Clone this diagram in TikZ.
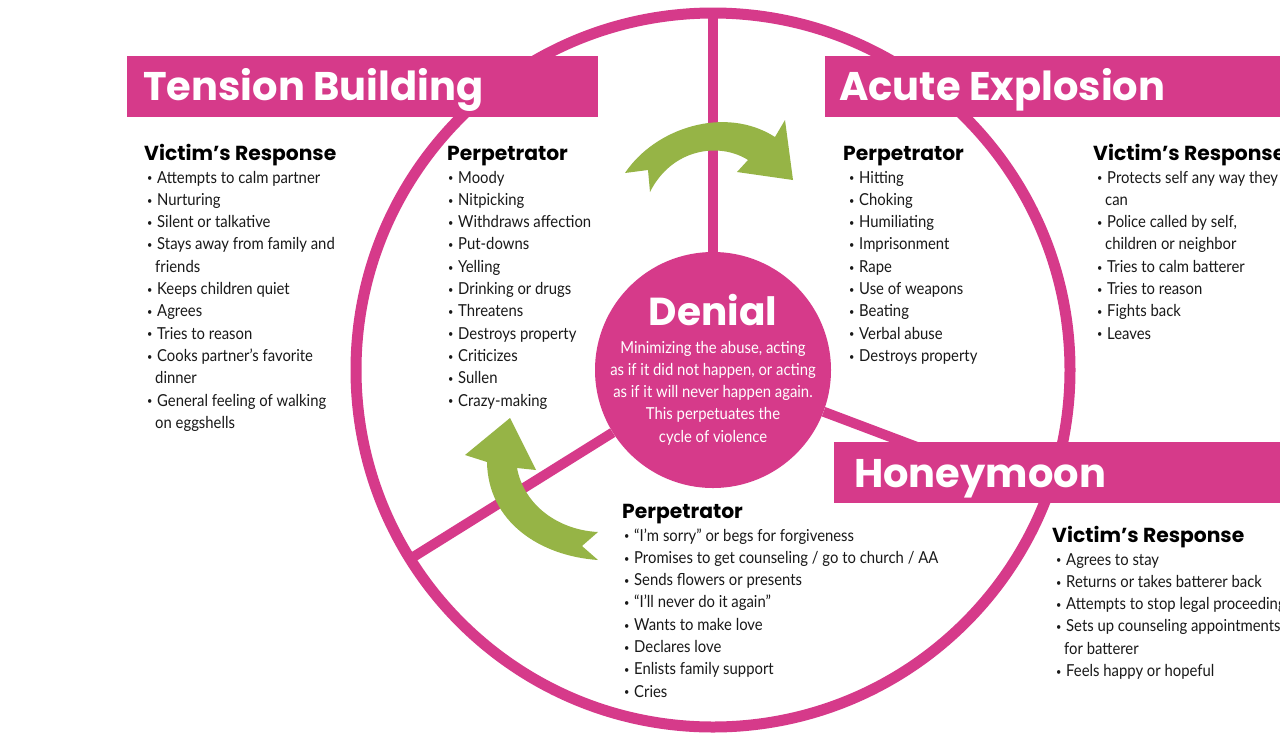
\documentclass[tikz,border=0pt]{standalone}
\usepackage{fontspec}
\setmainfont{Lato}[FakeStretch=0.9]
\newfontfamily\headfont{Poppins}
\definecolor{cpink}{RGB}{214,58,138}
\definecolor{cgreen}{RGB}{150,180,70}
\definecolor{ctext}{RGB}{25,25,25}
\newcommand{\itm}[1]{\makebox[10pt][l]{\raisebox{1.2pt}{\scalebox{0.62}{\textbullet}}}#1}
\newcommand{\cont}[1]{\hspace{8pt}#1}
\tikzset{
  ring/.style={draw=cpink, line width=11pt},
  spoke/.style={draw=cpink, line width=10pt},
  banner/.style={fill=cpink, draw=none, inner sep=0pt, anchor=north west},
  title/.style={anchor=base west, inner sep=0pt, text=white, font=\headfont\bfseries\fontsize{40}{48}\selectfont},
  head/.style={anchor=base west, inner sep=0pt, text=black, font=\headfont\bfseries\fontsize{20.3}{24}\selectfont},
  list/.style={anchor=base west, inner sep=0pt, text=ctext, font=\fontsize{16.5}{22.3}\selectfont},
  arrowshape/.style={fill=cgreen, draw=none},
}
\begin{document}
\begin{tikzpicture}[x=1pt,y=-1pt]
\useasboundingbox (0,0) rectangle (1280,740);
\clip (0,0) rectangle (1280,740);
\fill[white] (0,0) rectangle (1280,740);
% ring and denial circle
\draw[ring] (713,370) circle[radius=357];
\node[circle, fill=cpink, inner sep=0pt, minimum size=236pt] (denial) at (713,370) {};
\coordinate (ctop) at (713,10);
\coordinate (cleft) at (410,559);
\coordinate (cright) at (1047,496);
\draw[spoke] (denial) -- (ctop);
\draw[spoke] (denial) -- (cleft);
\draw[spoke] (denial) -- (cright);
% banners
\node[banner, minimum width=471pt, minimum height=61pt] (tbbox) at (127,56) {};
\node[banner, minimum width=470pt, minimum height=61pt] (aebox) at (825,56) {};
\node[banner, minimum width=460pt, minimum height=61pt] (hmbox) at (834,442) {};
\node[title] (tbtitle) at (143,100) {Tension Building};
\node[title] (aetitle) at (839,100) {Acute Explosion};
\node[title] (hmtitle) at (854,487) {Honeymoon};
% arrows
\fill[arrowshape] (625,173) .. controls (655,128) and (725,105) .. (775,137) -- (785,120) -- (793,180) -- (737,172) -- (748,160) .. controls (720,142) and (672,148) .. (650,192) -- (648,170) -- cycle;
\fill[arrowshape] (510,418) -- (536,470) -- (517,468) .. controls (524,505) and (558,530) .. (598,532) -- (582,546) -- (598,560) .. controls (540,556) and (488,522) .. (487,462) -- (465,455) -- cycle;
% denial text
\node[anchor=base, inner sep=0pt, text=white, font=\headfont\bfseries\fontsize{39}{46}\selectfont] (denialtitle) at (713,325) {Denial};
\node[anchor=base, inner sep=0pt, text=white, font=\fontsize{16.5}{22.3}\selectfont] (denialtext) at (713,353) {\begin{tabular}[t]{@{}c@{}}Minimizing the abuse, acting\\as if it did not happen, or acting\\as if it will never happen again.\\This perpetuates the\\cycle of violence\end{tabular}};
% Tension building
\node[head] (tbvh) at (144,160) {Victim’s Response};
\node[list] (tbv) at (147,183) {\begin{tabular}[t]{@{}l@{}}
\itm{Attempts to calm partner}\\
\itm{Nurturing}\\
\itm{Silent or talkative}\\
\itm{Stays away from family and}\\
\cont{friends}\\
\itm{Keeps children quiet}\\
\itm{Agrees}\\
\itm{Tries to reason}\\
\itm{Cooks partner’s favorite}\\
\cont{dinner}\\
\itm{General feeling of walking}\\
\cont{on eggshells}
\end{tabular}};
\node[head] (tbph) at (447,160) {Perpetrator};
\node[list] (tbp) at (448,183) {\begin{tabular}[t]{@{}l@{}}
\itm{Moody}\\
\itm{Nitpicking}\\
\itm{Withdraws affection}\\
\itm{Put-downs}\\
\itm{Yelling}\\
\itm{Drinking or drugs}\\
\itm{Threatens}\\
\itm{Destroys property}\\
\itm{Criticizes}\\
\itm{Sullen}\\
\itm{Crazy-making}
\end{tabular}};
% Acute explosion
\node[head] (aeph) at (843,160) {Perpetrator};
\node[list] (aep) at (849,183) {\begin{tabular}[t]{@{}l@{}}
\itm{Hitting}\\
\itm{Choking}\\
\itm{Humiliating}\\
\itm{Imprisonment}\\
\itm{Rape}\\
\itm{Use of weapons}\\
\itm{Beating}\\
\itm{Verbal abuse}\\
\itm{Destroys property}
\end{tabular}};
\node[head] (aevh) at (1093,160) {Victim’s Response};
\node[list] (aev) at (1097,183) {\begin{tabular}[t]{@{}l@{}}
\itm{Protects self any way they}\\
\cont{can}\\
\itm{Police called by self,}\\
\cont{children or neighbor}\\
\itm{Tries to calm batterer}\\
\itm{Tries to reason}\\
\itm{Fights back}\\
\itm{Leaves}
\end{tabular}};
% Honeymoon
\node[head] (hmph) at (622,518) {Perpetrator};
\node[list] (hmp) at (624,541) {\begin{tabular}[t]{@{}l@{}}
\itm{“I’m sorry” or begs for forgiveness}\\
\itm{Promises to get counseling / go to church / AA}\\
\itm{Sends flowers or presents}\\
\itm{“I’ll never do it again”}\\
\itm{Wants to make love}\\
\itm{Declares love}\\
\itm{Enlists family support}\\
\itm{Cries}
\end{tabular}};
\node[head] (hmvh) at (1052,542) {Victim’s Response};
\node[list] (hmv) at (1056,565) {\begin{tabular}[t]{@{}l@{}}
\itm{Agrees to stay}\\
\itm{Returns or takes batterer back}\\
\itm{Attempts to stop legal proceedings}\\
\itm{Sets up counseling appointments}\\
\cont{for batterer}\\
\itm{Feels happy or hopeful}
\end{tabular}};
\end{tikzpicture}
\end{document}
